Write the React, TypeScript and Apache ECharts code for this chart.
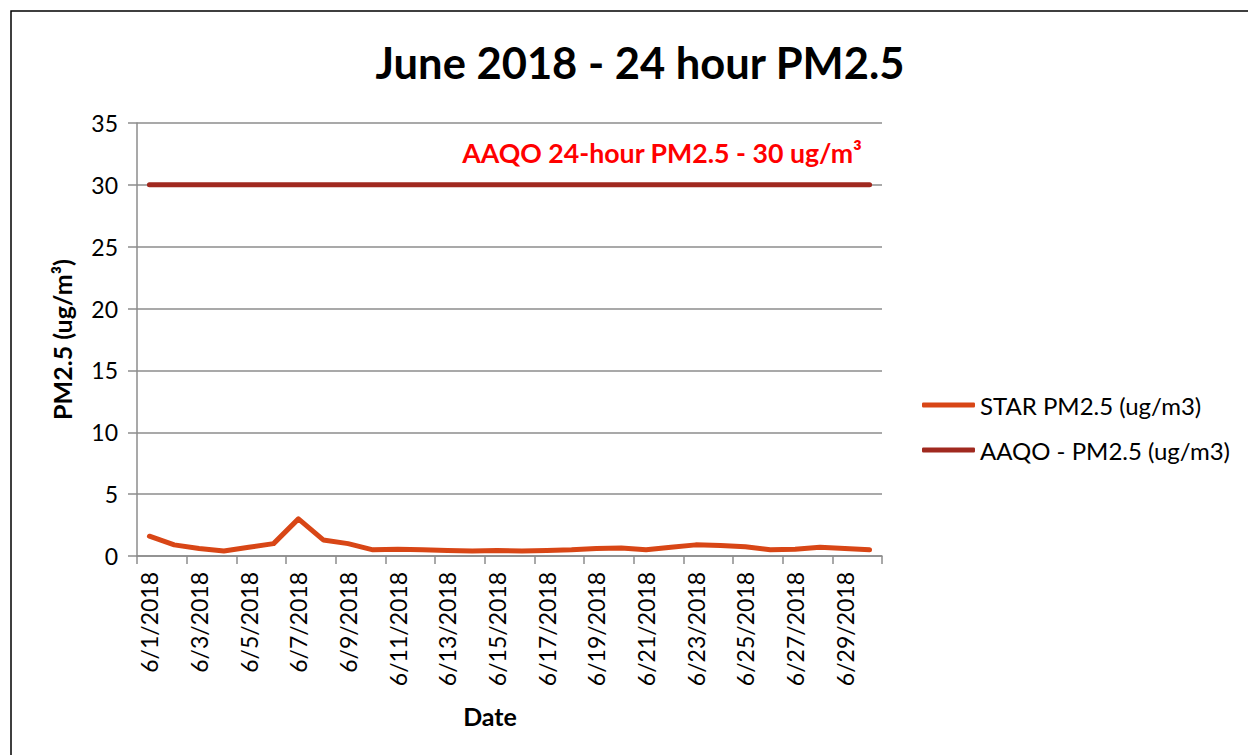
import React, { useEffect, useRef } from "react";
import * as echarts from "echarts";

const dates = [
  "6/1/2018","6/2/2018","6/3/2018","6/4/2018","6/5/2018","6/6/2018","6/7/2018","6/8/2018","6/9/2018","6/10/2018",
  "6/11/2018","6/12/2018","6/13/2018","6/14/2018","6/15/2018","6/16/2018","6/17/2018","6/18/2018","6/19/2018","6/20/2018",
  "6/21/2018","6/22/2018","6/23/2018","6/24/2018","6/25/2018","6/26/2018","6/27/2018","6/28/2018","6/29/2018","6/30/2018",
];
const starPm25 = [
  1.6, 0.9, 0.6, 0.4, 0.7, 1.0, 3.0, 1.3, 1.0, 0.5,
  0.55, 0.5, 0.45, 0.4, 0.45, 0.4, 0.45, 0.5, 0.6, 0.65,
  0.5, 0.7, 0.9, 0.85, 0.75, 0.5, 0.55, 0.7, 0.6, 0.5,
];
const aaqo = dates.map(() => 30);
const yTicks = { min: 0, max: 35, interval: 5 };

const FONT = "Lato, 'Noto Sans', sans-serif";

export default function App() {
  const ref = useRef<HTMLDivElement>(null);
  useEffect(() => {
    if (!ref.current) return;
    const chart = echarts.init(ref.current, null, { renderer: "svg" });
    chart.setOption({
      animation: false,
      backgroundColor: "#ffffff",
      textStyle: { fontFamily: FONT },
      title: {
        text: "June 2018 - 24 hour PM2.5",
        left: 635,
        textAlign: "center",
        top: 35,
        textStyle: { fontFamily: FONT, fontWeight: "bold", fontSize: 43.5, color: "#000" },
      },
      grid: { left: 137, right: 366, top: 123, bottom: 199, containLabel: false },
      legend: {
        orient: "vertical",
        left: 922,
        top: 393,
        padding: 0,
        itemWidth: 53,
        itemHeight: 5,
        itemGap: 21,
        icon: "roundRect",
        textStyle: { fontFamily: FONT, fontSize: 24, color: "#000", lineHeight: 24 },
        data: ["STAR PM2.5 (ug/m3)", "AAQO - PM2.5 (ug/m3)"],
      },
      xAxis: {
        type: "category",
        data: dates,
        boundaryGap: true,
        axisLine: { lineStyle: { color: "#8c8c8c", width: 1.5 } },
        axisTick: { show: true, interval: 1, length: 8, lineStyle: { color: "#8c8c8c", width: 1.5 } },
        axisLabel: { interval: 1, rotate: 90, margin: 16, fontFamily: FONT, fontSize: 23, color: "#000" },
        splitLine: { show: false },
      },
      yAxis: {
        type: "value",
        min: yTicks.min,
        max: yTicks.max,
        interval: yTicks.interval,
        name: "PM2.5 (ug/m³)",
        nameLocation: "middle",
        nameGap: 63,
        nameTextStyle: { fontFamily: FONT, fontWeight: "bold", fontSize: 25, color: "#000" },
        axisLine: { show: true, lineStyle: { color: "#8c8c8c", width: 1.5 } },
        axisTick: { show: true, length: 9, lineStyle: { color: "#8c8c8c", width: 1.5 } },
        axisLabel: { margin: 19, fontFamily: FONT, fontSize: 23, color: "#000" },
        splitLine: { show: true, lineStyle: { color: "#8c8c8c", width: 1.5 } },
      },
      graphic: [
        {
          type: "rect",
          shape: { x: 11, y: 11, width: 1260, height: 780 },
          style: { fill: "none", stroke: "#000", lineWidth: 1.5 },
          silent: true,
        },
        {
          type: "text",
          x: 862,
          y: 153,
          style: {
            text: "AAQO 24-hour PM2.5 - 30 ug/m³",
            fill: "#ff0000",
            font: `bold 26.7px ${FONT}`,
            textAlign: "right",
            textVerticalAlign: "middle",
          },
        },
        {
          type: "text",
          x: 490,
          y: 716,
          style: {
            text: "Date",
            fill: "#000",
            font: `bold 25px ${FONT}`,
            textAlign: "center",
            textVerticalAlign: "middle",
          },
        },
      ],
      series: [
        {
          name: "STAR PM2.5 (ug/m3)",
          type: "line",
          data: starPm25,
          symbol: "none",
          color: "#d84616",
          lineStyle: { color: "#d84616", width: 5, cap: "round", join: "round" },
          z: 3,
        },
        {
          name: "AAQO - PM2.5 (ug/m3)",
          type: "line",
          data: aaqo,
          symbol: "none",
          color: "#a0291f",
          lineStyle: { color: "#a0291f", width: 5, cap: "round" },
          z: 2,
        },
      ],
    });
    return () => chart.dispose();
  }, []);
  return (
    <div
      ref={ref}
      style={{ position: "fixed", left: 0, top: 0, width: 1248, height: 755, background: "#fff" }}
    />
  );
}
